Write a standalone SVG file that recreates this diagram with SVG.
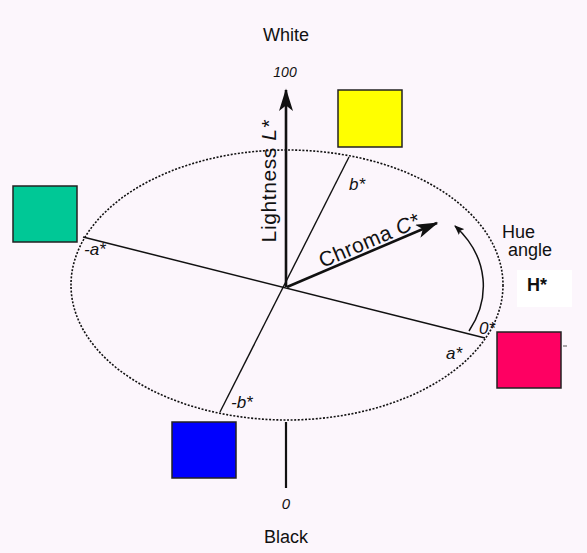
<svg xmlns="http://www.w3.org/2000/svg" width="587" height="553" viewBox="0 0 587 553">
<style>
.t{font-family:"Liberation Sans",Arial,sans-serif;fill:#111}
.i{font-style:italic}
.s{font-size:17px;font-style:italic}
.ax{stroke:#111;fill:none}
.sq{stroke:#222;stroke-width:1.5}
</style>
<defs>
<marker id="ahBig" viewBox="0 0 16 10" refX="15" refY="5" markerWidth="24" markerHeight="14" markerUnits="userSpaceOnUse" orient="auto">
<path d="M0,0 L16,5 L0,10 L4,5 Z" fill="#111"/>
</marker>
<marker id="ahS" viewBox="0 0 10 8" refX="9" refY="4" markerWidth="10" markerHeight="8" markerUnits="userSpaceOnUse" orient="auto">
<path d="M0,0 L10,4 L0,8 L2,4 Z" fill="#111"/>
</marker>
</defs>
<rect width="587" height="553" fill="#fcf6fc"/>
<g id="connectors">
<ellipse cx="287" cy="285" rx="216" ry="135" class="ax" stroke-width="1.6" stroke-dasharray="2,1.6"/>
<line x1="83" y1="237" x2="485" y2="338" class="ax" stroke-width="1.5"/>
<line x1="349" y1="157" x2="220" y2="412" class="ax" stroke-width="1.4"/>
<line x1="286" y1="287" x2="286" y2="90" class="ax" stroke-width="2.6" marker-end="url(#ahBig)"/>
<line x1="286" y1="422" x2="286" y2="488" class="ax" stroke-width="2.2"/>
<line x1="287" y1="287" x2="437" y2="223" class="ax" stroke-width="2.6" marker-end="url(#ahBig)"/>
<path d="M469,331 C490,300 490,258 455,226" class="ax" stroke-width="1.5" marker-end="url(#ahS)"/>
</g>
<g id="yellow"><rect x="338" y="90" width="64" height="57" fill="#ffff00" class="sq"/></g>
<g id="green"><rect x="13" y="186" width="64" height="56" fill="#00c896" class="sq"/></g>
<g id="magenta"><rect x="497" y="332" width="64" height="56" fill="#fe0062" class="sq"/><line x1="563" y1="346" x2="567" y2="346" stroke="#555" stroke-width="1"/></g>
<g id="blue"><rect x="172" y="422" width="64" height="56" fill="#0000fe" class="sq"/></g>
<g id="labels">
<text x="286" y="41" class="t" font-size="18" text-anchor="middle">White</text>
<text x="285" y="77" class="t i" font-size="14" text-anchor="middle">100</text>
<text transform="translate(276,181) rotate(-90)" class="t" font-size="21" letter-spacing="0.6" text-anchor="middle">Lightness <tspan class="i">L*</tspan></text>
<text x="349" y="190" class="t s">b*</text>
<text transform="translate(372,247) rotate(-23)" class="t" font-size="21" letter-spacing="0.4" text-anchor="middle">Chroma <tspan class="i">C*</tspan></text>
<text x="502" y="238" class="t" font-size="18">Hue</text>
<text x="508" y="256" class="t" font-size="18">angle</text>
<rect x="517" y="270" width="55" height="37" fill="#ffffff"/>
<text x="527" y="291" class="t" font-size="18" font-weight="bold">H*</text>
<text x="479" y="334" class="t s">0*</text>
<text x="446" y="359" class="t s">a*</text>
<text x="84" y="255" class="t s">-a*</text>
<text x="231" y="408" class="t s">-b*</text>
<text x="286" y="509" class="t i" font-size="15" text-anchor="middle">0</text>
<text x="286" y="543" class="t" font-size="18" text-anchor="middle">Black</text>
</g>
</svg>
